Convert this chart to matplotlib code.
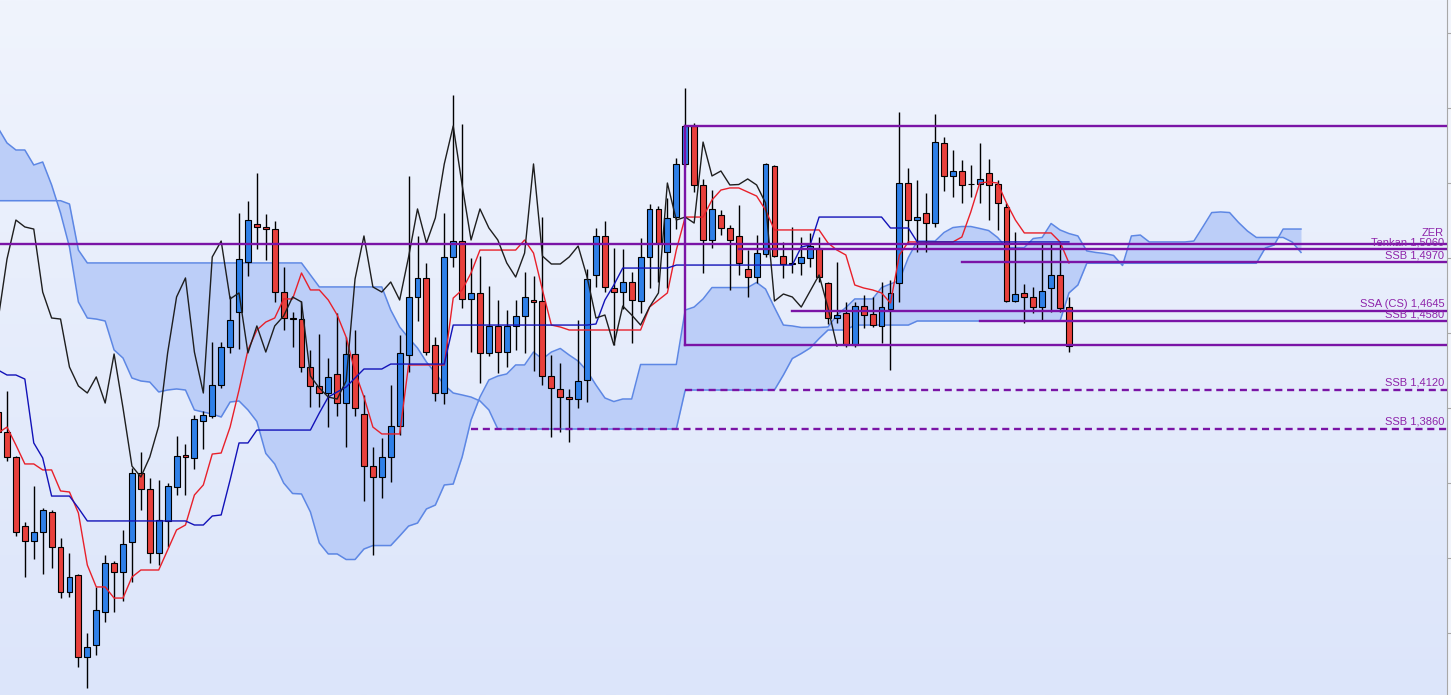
import matplotlib
matplotlib.use("Agg")
import matplotlib.pyplot as plt
import numpy as np
from matplotlib.colors import LinearSegmentedColormap

# ---------------- data ----------------
start_index = -1

opens = [1.3973, 1.3840, 1.3673, 1.3213, 1.3113, 1.3173, 1.3307, 1.3073, 1.2773, 1.2887,
         1.2340, 1.2420, 1.2640, 1.2967, 1.2907, 1.3107, 1.3567, 1.3460, 1.3033, 1.3247,
         1.3473, 1.3687, 1.3667, 1.3913, 1.3947, 1.4153, 1.4407, 1.4640, 1.4973, 1.5227,
         1.5207, 1.5193, 1.4773, 1.4600, 1.4593, 1.4273, 1.4147, 1.4100, 1.4227, 1.4033,
         1.4360, 1.3960, 1.3613, 1.3540, 1.3673, 1.3880, 1.4353, 1.4740, 1.4867, 1.4420,
         1.4100, 1.5007, 1.5113, 1.4727, 1.4767, 1.4367, 1.4547, 1.4373, 1.4547, 1.4613,
         1.4720, 1.4713, 1.4213, 1.4127, 1.4073, 1.4060, 1.4187, 1.4887, 1.5147, 1.4800,
         1.4773, 1.4840, 1.4713, 1.5007, 1.5327, 1.5040, 1.5273, 1.5627, 1.5880, 1.5487,
         1.5120, 1.5287, 1.5200, 1.5147, 1.4927, 1.4873, 1.5027, 1.5613, 1.5013, 1.4963,
         1.4967, 1.5000, 1.5067, 1.4833, 1.4600, 1.4633, 1.4420, 1.4680, 1.4627, 1.4547,
         1.4660, 1.4833, 1.5500, 1.5253, 1.5300, 1.5233, 1.5767, 1.5547, 1.5580, 1.5493,
         1.5493, 1.5567, 1.5493, 1.5340, 1.4713, 1.4767, 1.4740, 1.4673, 1.4800, 1.4887,
         1.4673]
highs = [1.4020, 1.4113, 1.3680, 1.3240, 1.3480, 1.3333, 1.3320, 1.3133, 1.3033, 1.2893,
         1.2500, 1.2807, 1.3020, 1.2980, 1.3187, 1.3600, 1.3707, 1.3533, 1.3520, 1.3500,
         1.3813, 1.3760, 1.3953, 1.3980, 1.4440, 1.4440, 1.4747, 1.5300, 1.5380, 1.5567,
         1.5293, 1.5247, 1.4940, 1.4640, 1.4713, 1.4387, 1.4493, 1.4333, 1.4633, 1.4473,
         1.4520, 1.4087, 1.3740, 1.3800, 1.4153, 1.4487, 1.5547, 1.5147, 1.4967, 1.4473,
         1.5300, 1.6087, 1.5893, 1.5000, 1.5013, 1.4813, 1.4720, 1.4653, 1.4720, 1.4907,
         1.4880, 1.5273, 1.4353, 1.4300, 1.4127, 1.4587, 1.4927, 1.5200, 1.5247, 1.5067,
         1.5060, 1.4907, 1.5133, 1.5360, 1.5347, 1.5400, 1.5667, 1.6133, 1.5900, 1.5527,
         1.5453, 1.5320, 1.5220, 1.5353, 1.5053, 1.5153, 1.5633, 1.5620, 1.5107, 1.5207,
         1.5140, 1.5167, 1.5140, 1.4840, 1.4973, 1.4707, 1.4707, 1.4753, 1.4740, 1.4840,
         1.4853, 1.5973, 1.5600, 1.5520, 1.5433, 1.5960, 1.5807, 1.5720, 1.5653, 1.5620,
         1.5767, 1.5660, 1.5520, 1.5367, 1.5173, 1.4827, 1.4807, 1.5100, 1.5100, 1.5100,
         1.4740]
lows = [1.3813, 1.3647, 1.3147, 1.2873, 1.2993, 1.2893, 1.2933, 1.2733, 1.2740, 1.2273,
        1.2133, 1.2353, 1.2573, 1.2640, 1.2713, 1.2840, 1.3320, 1.2967, 1.2953, 1.3073,
        1.3420, 1.3420, 1.3593, 1.3727, 1.3933, 1.4133, 1.4367, 1.4393, 1.4880, 1.5060,
        1.4987, 1.4707, 1.4520, 1.4407, 1.4240, 1.4007, 1.4007, 1.3873, 1.3947, 1.3740,
        1.3947, 1.3380, 1.3020, 1.3400, 1.3507, 1.3820, 1.4240, 1.4580, 1.4353, 1.4047,
        1.4027, 1.4940, 1.4667, 1.4373, 1.4167, 1.4347, 1.4233, 1.4273, 1.4387, 1.4367,
        1.4247, 1.4153, 1.3807, 1.3840, 1.3773, 1.4000, 1.4040, 1.4807, 1.4773, 1.4420,
        1.4660, 1.4433, 1.4633, 1.4800, 1.4840, 1.4800, 1.5193, 1.5607, 1.5440, 1.4900,
        1.5067, 1.5153, 1.4787, 1.4887, 1.4740, 1.4833, 1.5007, 1.5007, 1.4867, 1.4900,
        1.4887, 1.4940, 1.4840, 1.4560, 1.4567, 1.4407, 1.4407, 1.4533, 1.4540, 1.4433,
        1.4253, 1.4707, 1.5100, 1.5040, 1.5040, 1.5207, 1.5447, 1.5407, 1.5367, 1.5407,
        1.5367, 1.5253, 1.5187, 1.4707, 1.4707, 1.4567, 1.4633, 1.4587, 1.4640, 1.4640,
        1.4373]
closes = [1.3840, 1.3673, 1.3173, 1.3113, 1.3173, 1.3320, 1.3073, 1.2773, 1.2873, 1.2340,
          1.2407, 1.2653, 1.2967, 1.2907, 1.3093, 1.3567, 1.3460, 1.3033, 1.3253, 1.3480,
          1.3680, 1.3673, 1.3927, 1.3953, 1.4153, 1.4407, 1.4587, 1.4993, 1.5253, 1.5207,
          1.5193, 1.4773, 1.4600, 1.4593, 1.4273, 1.4147, 1.4100, 1.4207, 1.4033, 1.4360,
          1.4000, 1.3613, 1.3540, 1.3673, 1.3880, 1.4367, 1.4740, 1.4867, 1.4373, 1.4100,
          1.5007, 1.5113, 1.4727, 1.4767, 1.4367, 1.4547, 1.4373, 1.4547, 1.4613, 1.4740,
          1.4707, 1.4213, 1.4133, 1.4073, 1.4060, 1.4180, 1.4860, 1.5147, 1.4807, 1.4773,
          1.4840, 1.4720, 1.5007, 1.5327, 1.5100, 1.5267, 1.5627, 1.5880, 1.5487, 1.5120,
          1.5327, 1.5200, 1.5120, 1.4967, 1.4873, 1.5033, 1.5627, 1.5013, 1.4960, 1.4960,
          1.5007, 1.5080, 1.4873, 1.4600, 1.4620, 1.4420, 1.4680, 1.4620, 1.4553, 1.4673,
          1.4767, 1.5500, 1.5253, 1.5273, 1.5233, 1.5773, 1.5547, 1.5580, 1.5487, 1.5490,
          1.5527, 1.5487, 1.5367, 1.4713, 1.4760, 1.4740, 1.4673, 1.4780, 1.4887, 1.4667,
          1.4413]

tenkan = [1.3833, 1.3873, 1.3753, 1.3627, 1.3627, 1.3587, 1.3587, 1.3447, 1.3440, 1.3300,
          1.2953, 1.2807, 1.2807, 1.2733, 1.2733, 1.2873, 1.2920, 1.2920, 1.2920, 1.3053,
          1.3187, 1.3220, 1.3420, 1.3487, 1.3693, 1.3700, 1.3873, 1.4120, 1.4387, 1.4520,
          1.4573, 1.4600, 1.4727, 1.4727, 1.4900, 1.4787, 1.4787, 1.4720, 1.4620, 1.4473,
          1.4240, 1.4073, 1.3873, 1.3827, 1.3827, 1.3827, 1.4287, 1.4287, 1.4287, 1.4287,
          1.4287, 1.4733, 1.4787, 1.4900, 1.5053, 1.5053, 1.5053, 1.5053, 1.5053, 1.5120,
          1.5033, 1.4787, 1.4553, 1.4540, 1.4520, 1.4520, 1.4520, 1.4520, 1.4520, 1.4520,
          1.4520, 1.4520, 1.4520, 1.4673, 1.4720, 1.4767, 1.5053, 1.5273, 1.5273, 1.5273,
          1.5387, 1.5453, 1.5467, 1.5467, 1.5440, 1.5413, 1.5320, 1.5187, 1.5187, 1.5187,
          1.5187, 1.5187, 1.5187, 1.5100, 1.5053, 1.5020, 1.4820, 1.4800, 1.4787, 1.4767,
          1.4700, 1.5020, 1.5107, 1.5107, 1.5107, 1.5107, 1.5107, 1.5107, 1.5140, 1.5307,
          1.5500, 1.5507, 1.5500, 1.5367, 1.5253, 1.5167, 1.5167, 1.5167, 1.5167, 1.5107,
          1.4967]
kijun = [1.4253, 1.4220, 1.4220, 1.4193, 1.3767, 1.3667, 1.3413, 1.3413, 1.3413, 1.3333,
         1.3247, 1.3247, 1.3247, 1.3247, 1.3247, 1.3247, 1.3247, 1.3247, 1.3247, 1.3247,
         1.3247, 1.3247, 1.3220, 1.3220, 1.3280, 1.3287, 1.3520, 1.3767, 1.3767, 1.3853,
         1.3853, 1.3853, 1.3853, 1.3853, 1.3853, 1.3853, 1.3967, 1.4073, 1.4107, 1.4140,
         1.4200, 1.4260, 1.4260, 1.4260, 1.4293, 1.4293, 1.4293, 1.4293, 1.4293, 1.4293,
         1.4293, 1.4553, 1.4553, 1.4553, 1.4553, 1.4553, 1.4553, 1.4553, 1.4553, 1.4553,
         1.4553, 1.4553, 1.4553, 1.4553, 1.4553, 1.4553, 1.4553, 1.4560, 1.4720, 1.4820,
         1.4933, 1.4933, 1.4933, 1.4933, 1.4933, 1.4933, 1.4953, 1.4953, 1.4953, 1.4953,
         1.4953, 1.4953, 1.4953, 1.4953, 1.4953, 1.4953, 1.4953, 1.4953, 1.4953, 1.4953,
         1.5073, 1.5087, 1.5273, 1.5273, 1.5273, 1.5273, 1.5273, 1.5273, 1.5273, 1.5273,
         1.5200, 1.5200, 1.5200, 1.5107, 1.5107, 1.5107, 1.5107, 1.5107, 1.5107, 1.5107,
         1.5107, 1.5107, 1.5107, 1.5107, 1.5107, 1.5107, 1.5107, 1.5107, 1.5107, 1.5107,
         1.5107]

senkou_a = [1.5867, 1.5767, 1.5720, 1.5720, 1.5620, 1.5640, 1.5487, 1.5300, 1.5073, 1.4707,
            1.4600, 1.4593, 1.4580, 1.4387, 1.4333, 1.4200, 1.4180, 1.4173, 1.4107, 1.4120,
            1.4127, 1.4120, 1.3987, 1.3973, 1.3960, 1.3940, 1.4040, 1.4047, 1.3987, 1.3910,
            1.3697, 1.3627, 1.3500, 1.3430, 1.3427, 1.3307, 1.3100, 1.3027, 1.3027, 1.2990,
            1.2990, 1.3060, 1.3083, 1.3083, 1.3083, 1.3147, 1.3213, 1.3233, 1.3327, 1.3353,
            1.3487, 1.3493, 1.3673, 1.3920, 1.4073, 1.4187, 1.4213, 1.4227, 1.4287, 1.4287,
            1.4373, 1.4327, 1.4373, 1.4397, 1.4353, 1.4313, 1.4247, 1.4153, 1.4067, 1.4043,
            1.4060, 1.4060, 1.4290, 1.4290, 1.4290, 1.4290, 1.4290, 1.4653, 1.4673, 1.4727,
            1.4803, 1.4803, 1.4803, 1.4803, 1.4803, 1.4837, 1.4793, 1.4670, 1.4553, 1.4547,
            1.4537, 1.4537, 1.4537, 1.4540, 1.4620, 1.4670, 1.4727, 1.4727, 1.4727, 1.4803,
            1.4827, 1.4850, 1.5003, 1.5113, 1.5113, 1.5113, 1.5170, 1.5203, 1.5210, 1.5210,
            1.5197, 1.5183, 1.5137, 1.5070, 1.5070, 1.5070, 1.5130, 1.5137, 1.5230, 1.5187,
            1.5163, 1.5147, 1.5047, 1.5037, 1.5030, 1.5017, 1.4950, 1.5147, 1.5153, 1.5107,
            1.5107, 1.5107, 1.5107, 1.5107, 1.5113, 1.5207, 1.5303, 1.5307, 1.5303, 1.5237,
            1.5180, 1.5137, 1.5137, 1.5137, 1.5137, 1.5107, 1.5037]
senkou_b = [1.5382, 1.5382, 1.5382, 1.5382, 1.5382, 1.5382, 1.5382, 1.5382, 1.5360, 1.5053,
            1.4967, 1.4967, 1.4967, 1.4967, 1.4967, 1.4967, 1.4967, 1.4967, 1.4967, 1.4967,
            1.4967, 1.4967, 1.4967, 1.4967, 1.4967, 1.4967, 1.4967, 1.4967, 1.4967, 1.4967,
            1.4967, 1.4967, 1.4967, 1.4967, 1.4967, 1.4887, 1.4807, 1.4807, 1.4807, 1.4807,
            1.4807, 1.4807, 1.4807, 1.4807, 1.4653, 1.4540, 1.4467, 1.4400, 1.4307, 1.4233,
            1.4153, 1.4100, 1.4087, 1.4073, 1.4047, 1.3987, 1.3860, 1.3860, 1.3860, 1.3860,
            1.3860, 1.3860, 1.3860, 1.3860, 1.3860, 1.3860, 1.3860, 1.3860, 1.3860, 1.3860,
            1.3860, 1.3860, 1.3860, 1.3860, 1.3860, 1.3860, 1.3860, 1.4120, 1.4120, 1.4120,
            1.4120, 1.4120, 1.4120, 1.4120, 1.4120, 1.4120, 1.4120, 1.4120, 1.4220, 1.4330,
            1.4363, 1.4400, 1.4463, 1.4520, 1.4520, 1.4520, 1.4553, 1.4553, 1.4553, 1.4553,
            1.4553, 1.4553, 1.4553, 1.4580, 1.4580, 1.4580, 1.4580, 1.4580, 1.4580, 1.4580,
            1.4580, 1.4580, 1.4580, 1.4580, 1.4580, 1.4580, 1.4580, 1.4580, 1.4580, 1.4580,
            1.4767, 1.4820, 1.4965, 1.4965, 1.4965, 1.4965, 1.4965, 1.4965, 1.4965, 1.4965,
            1.4965, 1.4965, 1.4965, 1.4965, 1.4965, 1.4965, 1.4965, 1.4965, 1.4965, 1.4965,
            1.4965, 1.4965, 1.5067, 1.5087, 1.5193, 1.5193, 1.5193]
chikou_shift = 26

# horizontal levels drawn on the chart
level_values = [1.5880, 1.5093, 1.5060, 1.4970, 1.4645, 1.4580, 1.4420, 1.4120, 1.3860]
level_start = [76, -1, 82, 107, 88, 109, 76, 76, 52]
level_labels = ["", "ZER", "Tenkan 1,5060", "SSB 1,4970", "SSA (CS) 1,4645",
                "SSB 1,4580", "", "SSB 1,4120", "SSB 1,3860"]
level_dashed = [False, False, False, False, False, False, False, True, True]
box_index = 76
box_top = 1.5880
box_bottom = 1.4420

# ---------------- drawing ----------------
W, H = 1451, 695
fig = plt.figure(figsize=(W / 100, H / 100), dpi=100)
fig.patch.set_facecolor("#F2F5FC")
ax = fig.add_axes([0, 0, 1447 / W, 1])

step_px = 8.924
x_left = -7 / step_px
x_right = x_left + 1447 / step_px
y_top, y_bot = 1.672, 1.672 - 695 / 1500
ax.set_xlim(x_left, x_right)
ax.set_ylim(y_bot, y_top)

# background gradient
cmap_bg = LinearSegmentedColormap.from_list("bg", ["#F0F4FD", "#DCE5FA"])
ax.imshow(np.linspace(0, 1, 256).reshape(-1, 1), extent=[x_left, x_right, y_bot, y_top],
          cmap=cmap_bg, aspect="auto", origin="upper", zorder=0)

# cloud
n_cloud = len(senkou_a)
xc = np.arange(start_index, start_index + n_cloud)
sa = np.array(senkou_a)
sb = np.array(senkou_b)
ax.fill_between(xc, sa, sb, color="#BCCEF8", lw=0, zorder=1)
ax.plot(xc, sa, color="#5D87E4", lw=1.1, zorder=2)
ax.plot(xc, sb, color="#5D87E4", lw=1.1, zorder=2)

# candles
o = np.array(opens); h = np.array(highs); l = np.array(lows); c = np.array(closes)
xi = np.arange(start_index, start_index + len(o))
up = c >= o
ax.vlines(xi, l, h, color="black", lw=1.0, zorder=3)
body_bot = np.minimum(o, c)
body_h = np.maximum(np.abs(c - o), 0.0004)
cols = np.where(up, "#2F80E8", "#E8403C")
ax.bar(xi, body_h, bottom=body_bot, width=0.66, color=cols, edgecolor="black",
       linewidth=0.8, zorder=4)

# indicator lines
ax.plot(xi, tenkan, color="#E8202A", lw=1.0, zorder=5)
ax.plot(xi, kijun, color="#1212B8", lw=1.0, zorder=5)
ax.plot(xi[chikou_shift:] - chikou_shift, c[chikou_shift:], color="#1E1E1E", lw=1.0, zorder=5)

# levels
purple = "#7A14A6"
label_offsets = [0, 4.2, 1.2, 1.6, 1.6, 1.2, 0, 1.6, 1.6]
for val, st, lab, dsh, off in zip(level_values, level_start, level_labels, level_dashed,
                                  label_offsets):
    xs = x_left if st < 0 else st
    if dsh:
        ax.plot([xs, x_right], [val, val], color=purple, lw=1.7, dashes=(3, 2), zorder=6,
                solid_capstyle="butt")
    else:
        ax.plot([xs, x_right], [val, val], color=purple, lw=1.7, zorder=6)
    if lab:
        ax.annotate(lab, xy=(1, val), xycoords=("axes fraction", "data"),
                    xytext=(-2, off), textcoords="offset points", ha="right", va="bottom",
                    fontsize=8, family="Liberation Sans", color="#8E24AA", zorder=7)
ax.plot([box_index, box_index], [box_bottom, box_top], color=purple, lw=1.7, zorder=6)

# right axis
for s in ["top", "left", "bottom"]:
    ax.spines[s].set_visible(False)
ax.spines["right"].set_color("#A8A8A8")
ax.spines["right"].set_linewidth(0.8)
ax.yaxis.tick_right()
ax.set_yticks([1.25, 1.30, 1.35, 1.40, 1.45, 1.50, 1.55, 1.60, 1.65])
ax.set_yticklabels([])
ax.tick_params(axis="y", direction="out", length=4, color="#A8A8A8", width=0.8)
ax.set_xticks([])

fig.savefig("out.png", dpi=100)
